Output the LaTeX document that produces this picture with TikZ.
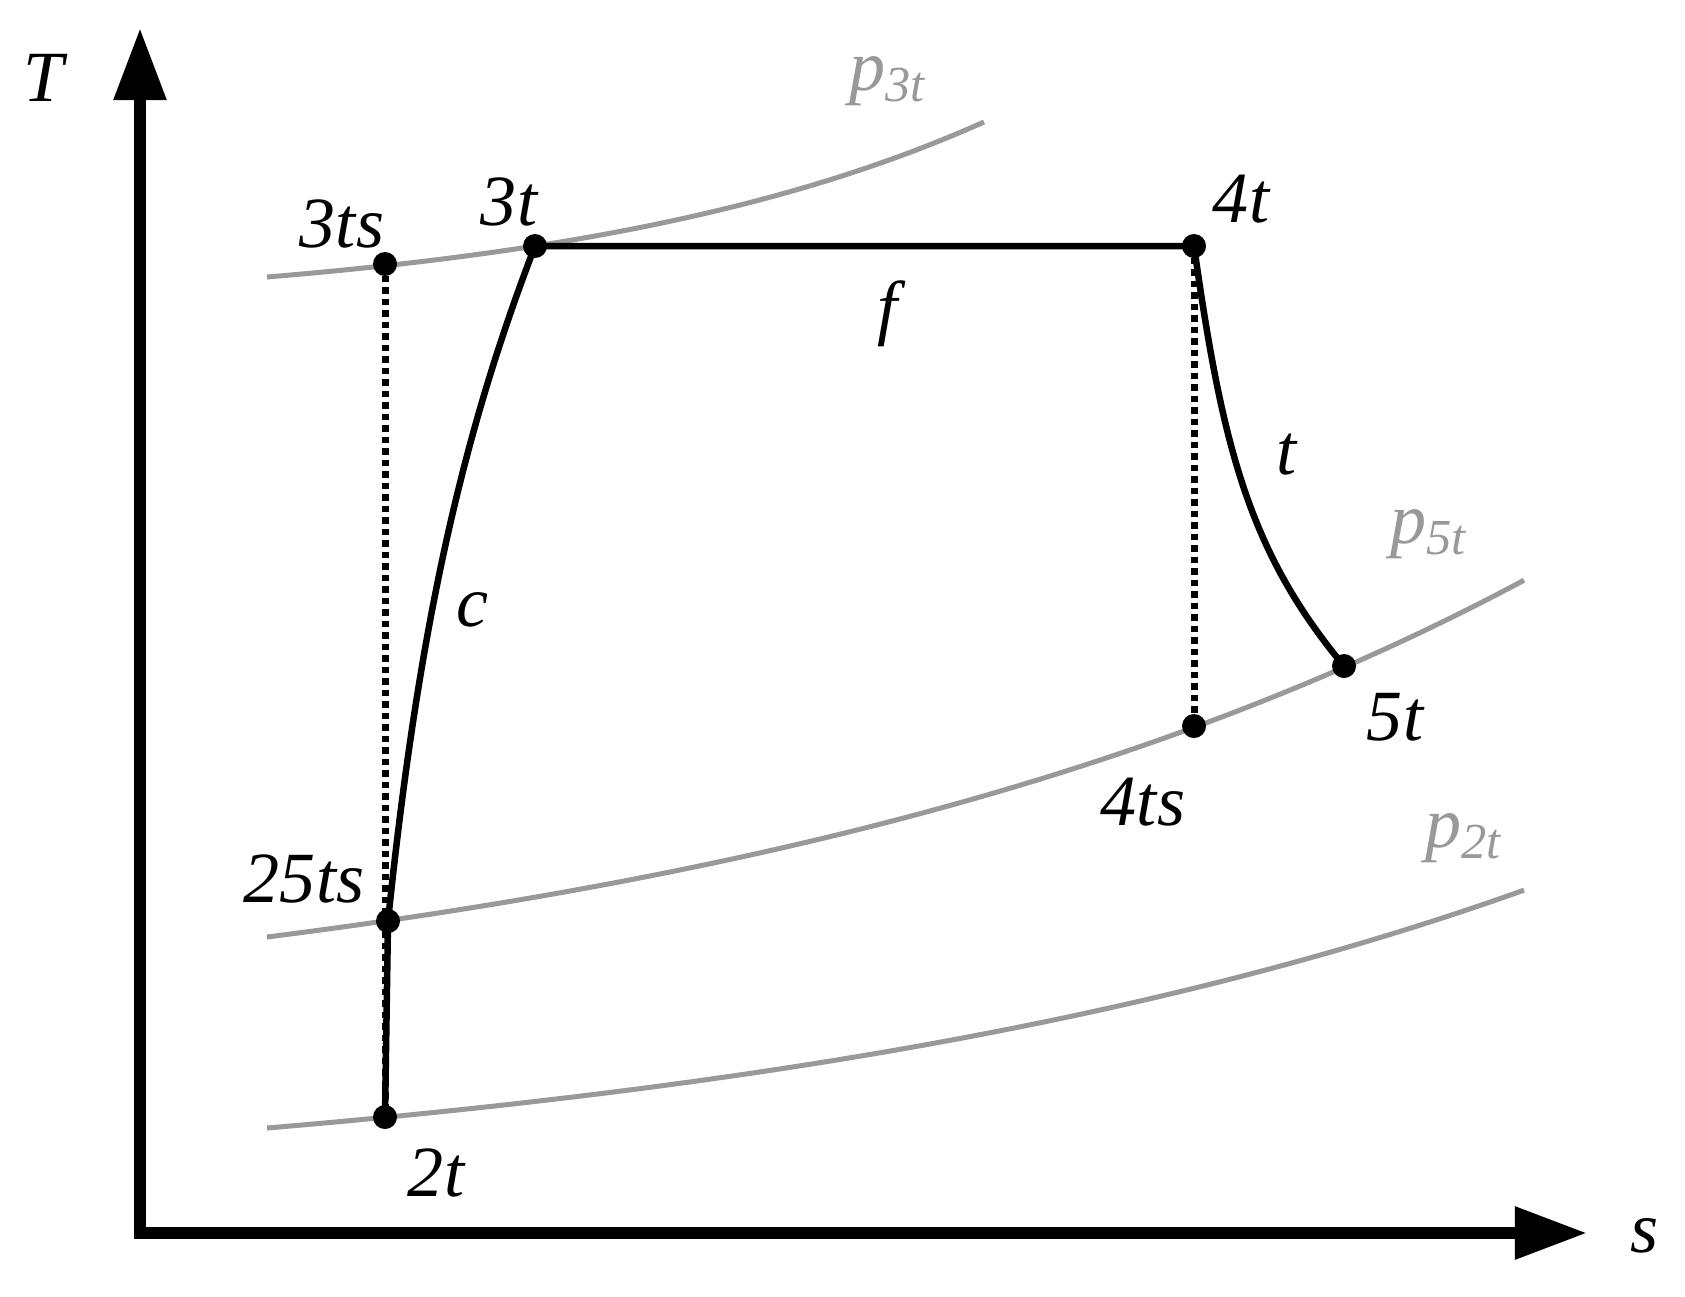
\documentclass[tikz,border=0pt]{standalone}
\usepackage{fontspec}
\setmainfont{Liberation Serif}
\usetikzlibrary{arrows.meta}
\definecolor{isogray}{RGB}{153,153,153}
\begin{document}
\begin{tikzpicture}[x=0.01cm,y=-0.01cm,
    axisline/.style={line width=1.2mm,{Triangle[length=7.2mm,width=5mm]}-{Triangle[length=7.2mm,width=5mm]}},
    stpoint/.style={circle,fill=black,inner sep=0pt,minimum size=2.4mm},
    lbl/.style={font=\fontsize{20.5}{24}\selectfont\itshape},
    plbl/.style={lbl,text=isogray},
    isobar/.style={isogray,line width=0.5mm},
    process/.style={line width=0.65mm},
    isentrop/.style={line width=0.7mm,dash pattern=on 0.65mm off 0.5mm}]
  \useasboundingbox (0,0) rectangle (1685,1296);
  % axes
  \coordinate (ytip) at (140,28);
  \coordinate (origin) at (140,1233);
  \coordinate (xtip) at (1587,1233);
  \draw[axisline] (ytip) -- (origin) -- (xtip);
  \node[lbl] (Tlab) at (44,78) {T};
  \node[lbl] (slab) at (1645,1236) {s};
  % isobars
  \draw[isobar] plot[domain=267:984,samples=60] (\x,{277-35.3*(exp(0.00235*(\x-267))-1)});
  \draw[isobar] plot[domain=267:1524,samples=80] (\x,{937-111*(exp(0.00115*(\x-267))-1)});
  \draw[isobar] plot[domain=267:1524,samples=80] (\x,{1128-74*(exp(0.00115*(\x-267))-1)});
  \node[plbl] (p3t) at (888,81) {p\textsubscript{3t}};
  \node[plbl] (p5t) at (1429,534) {p\textsubscript{5t}};
  \node[plbl] (p2t) at (1464,838) {p\textsubscript{2t}};
  % state points
  \node[stpoint] (2t) at (385,1117) {};
  \node[stpoint] (25ts) at (388,921) {};
  \node[stpoint] (3ts) at (385,264) {};
  \node[stpoint] (3t) at (535,246) {};
  \node[stpoint] (4t) at (1194,246) {};
  \node[stpoint] (4ts) at (1194,726) {};
  \node[stpoint] (5t) at (1344,666) {};
  % processes
  \draw[isentrop] (3ts.center) -- (2t.center);
  \draw[isentrop] (4t.center) -- (4ts.center);
  \draw[process] (2t.center) -- (25ts.center) .. controls (419,623) and (463,433) .. (3t.center)
    -- (4t.center) .. controls (1222,444) and (1248,551) .. (5t.center);
  % labels
  \node[lbl] at (342,224) {3ts};
  \node[lbl] at (509,202) {3t};
  \node[lbl] at (1241,199) {4t};
  \node[lbl] at (888,314) {f};
  \node[lbl] at (1286,455) {t};
  \node[lbl] at (472,610) {c};
  \node[lbl] at (1395,717) {5t};
  \node[lbl] at (1143,802) {4ts};
  \node[lbl] at (304,879) {25ts};
  \node[lbl] at (436,1173) {2t};
\end{tikzpicture}
\end{document}
